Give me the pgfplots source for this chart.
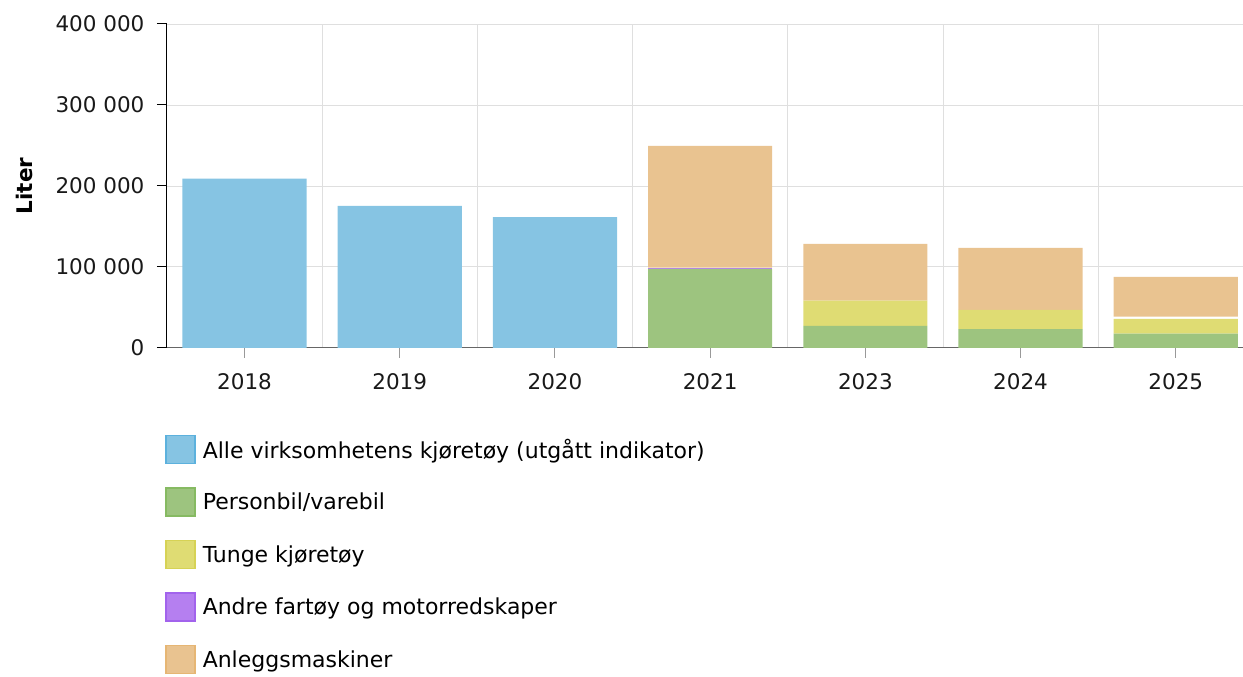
\documentclass[border=0pt]{standalone}
\usepackage{fontspec}
\setmainfont{DejaVu Sans}
\usepackage{pgfplots}
\pgfplotsset{compat=1.18}
\usetikzlibrary{calc}

\definecolor{cBlue}{HTML}{86C4E3}
\definecolor{cBlueB}{HTML}{5CB1DD}
\definecolor{cGreen}{HTML}{9DC47F}
\definecolor{cGreenB}{HTML}{86BA62}
\definecolor{cYellow}{HTML}{DFDC73}
\definecolor{cYellowB}{HTML}{D6D255}
\definecolor{cPurple}{HTML}{B57FF0}
\definecolor{cPurpleB}{HTML}{A263EC}
\definecolor{cOrange}{HTML}{E9C390}
\definecolor{cOrangeB}{HTML}{E6B674}

\begin{document}
\begin{tikzpicture}
\begin{axis}[
    name=ax,
    scale only axis, width=1076pt, height=324pt,
    ybar stacked, bar width=0.8,
    xmin=-0.5, xmax=6.43, ymin=0, ymax=400000,
    scaled y ticks=false,
    xtick={0,...,6},
    xticklabels={2018,2019,2020,2021,2023,2024,2025},
    minor xtick={0.5,1.5,...,5.5},
    ytick={0,100000,200000,300000,400000},
    yticklabels={0,100 000,200 000,300 000,400 000},
    xminorgrids, ymajorgrids,
    grid style={gray!25, line width=0.8pt},
    minor grid style={gray!25, line width=0.8pt},
    axis x line*=bottom, axis y line*=left,
    x axis line style={draw=black!60, line width=1pt},
    y axis line style={draw=black, line width=1pt},
    tick align=outside, major tick length=10pt, minor tick length=0pt,
    xtick style={draw=black!40, line width=1pt},
    ytick style={draw=black, line width=1pt},
    tick label style={font=\fontsize{21.5}{25}\selectfont, text=black!90},
    xticklabel style={yshift=-12pt},
    yticklabel style={xshift=-9pt},
    ylabel={\textbf{Liter}},
    every axis y label/.style={at={(axis description cs:-0.1326,0.5)}, rotate=90, anchor=center,
        font=\fontsize{21.5}{25}\selectfont},
    legend cell align=left,
    legend style={draw=none, fill=none, at={(-0.0045,-0.262)}, anchor=north west,
        font=\fontsize{22}{26}\selectfont, row sep=23pt,
        /tikz/every odd column/.append style={column sep=5pt}},
    legend image code/.code={\draw[#1, draw opacity=1, fill opacity=1, line width=1.5pt] (0pt,-14pt) rectangle (29pt,14pt);},
    every axis plot/.append style={draw opacity=0},
]
\addplot[fill=cBlue, draw=cBlueB] coordinates {(0,209000) (1,175500) (2,161500) (3,0) (4,0) (5,0) (6,0)};
\addlegendentry{Alle virksomhetens kjøretøy (utgått indikator)}
\addplot[fill=cGreen, draw=cGreenB] coordinates {(0,0) (1,0) (2,0) (3,97500) (4,27200) (5,23100) (6,17700)};
\addlegendentry{Personbil/varebil}
\addplot[fill=cYellow, draw=cYellowB] coordinates {(0,0) (1,0) (2,0) (3,0) (4,31200) (5,23800) (6,18100)};
\addlegendentry{Tunge kjøretøy}
\addplot[fill=cPurple, draw=cPurpleB] coordinates {(0,0) (1,0) (2,0) (3,1500) (4,0) (5,0) (6,0)};
\addlegendentry{Andre fartøy og motorredskaper}
\addplot[fill=white, draw=white, forget plot] coordinates {(0,0) (1,0) (2,0) (3,0) (4,0) (5,0) (6,2800)};
\addplot[fill=cOrange, draw=cOrangeB] coordinates {(0,0) (1,0) (2,0) (3,150400) (4,70000) (5,76600) (6,49100)};
\addlegendentry{Anleggsmaskiner}
\end{axis}
\path[use as bounding box] ($(ax.south west)+(-167pt,-325pt)$) rectangle ($(ax.north east)+(0pt,24pt)$);
\end{tikzpicture}
\end{document}
